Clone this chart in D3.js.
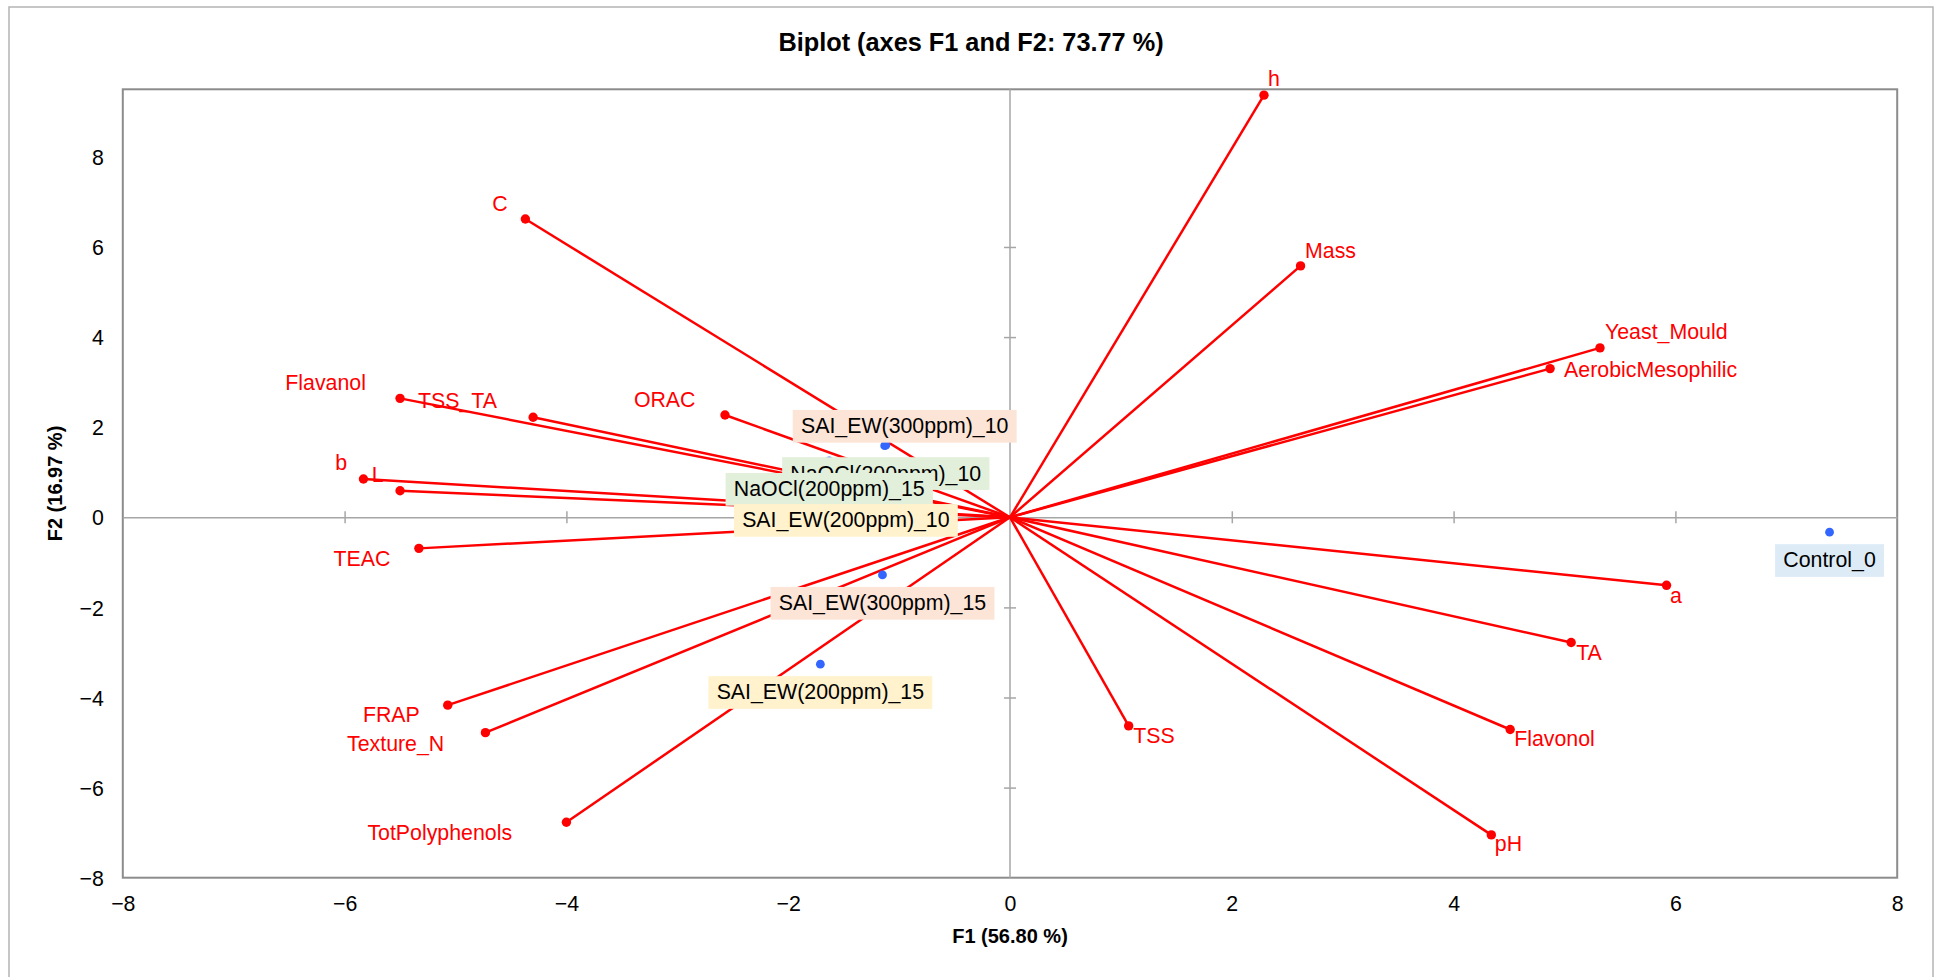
<!DOCTYPE html>
<html>
<head>
<meta charset="utf-8">
<script src="https://cdn.jsdelivr.net/npm/d3@7"></script>
<style>
  html, body { margin: 0; padding: 0; background: #fff; }
  svg { display: block; font-family: "Liberation Sans", Arial, sans-serif; }
</style>
</head>
<body>
<svg id="chart" width="1939" height="977"></svg>
<script>
// ---------------- data ----------------
const chartTitle = "Biplot (axes F1 and F2: 73.77 %)";
const xTitle = "F1 (56.80 %)";
const yTitle = "F2 (16.97 %)";

const xTicks = [-8, -6, -4, -2, 0, 2, 4, 6, 8];
const yTicks = [-8, -6, -4, -2, 0, 2, 4, 6, 8];

// variables (loadings, red vectors)
const varNames = ["h", "Mass", "Yeast_Mould", "AerobicMesophilic", "a", "TA", "Flavonol", "pH", "TSS",
                  "TotPolyphenols", "Texture_N", "FRAP", "TEAC", "L", "b", "Flavanol", "TSS_TA", "ORAC", "C"];
const varF1 = [2.29, 2.62, 5.32, 4.87, 5.92, 5.06, 4.51, 4.34, 1.07,
               -4.00, -4.73, -5.07, -5.33, -5.50, -5.83, -5.50, -4.30, -2.57, -4.37];
const varF2 = [9.37, 5.58, 3.76, 3.30, -1.51, -2.78, -4.71, -7.05, -4.63,
               -6.77, -4.78, -4.17, -0.69, 0.59, 0.85, 2.64, 2.22, 2.27, 6.62];

// observations (scores, blue points)
const obsNames = ["Control_0", "SAI_EW(300ppm)_10", "NaOCl(200ppm)_10", "NaOCl(200ppm)_15",
                  "SAI_EW(200ppm)_10", "SAI_EW(300ppm)_15", "SAI_EW(200ppm)_15"];
const obsGroup = ["Control", "SAI_EW300", "NaOCl", "NaOCl", "SAI_EW200", "SAI_EW300", "SAI_EW200"];
const obsF1 = [7.39, -1.13, -1.12, -1.63, -1.48, -1.15, -1.71];
const obsF2 = [-0.33, 1.59, 1.60, 1.25, 0.56, -1.28, -3.26];

// ---------------- layout (label placement, px offsets from the point) ----------------
const varLabelDx = [4, 4.5, 5, 14, 3.5, 5, 4, 3.5, 4.5,
                    -199, -138.4, -84.8, -85.3, -28.2, -28.3, -114.8, -115.2, -91.1, -33];
const varLabelDy = [-9, -8, -8.4, 8.4, 17.4, 17.7, 17, 16, 17,
                    17.7, 18, 17.3, 17.7, -8.4, -9, -8.3, -9, -8.3, -8.3];
const obsLabelDx = [0, 20, 0, 0, 0, 0, 0];
const obsLabelTop = [12, -35.7, 12, 12, 12, 12, 12];

const groupFill = { Control: "#DDEBF7", SAI_EW300: "#FCE4D6", NaOCl: "#E2EFDA", SAI_EW200: "#FFF2CC" };

// ---------------- drawing ----------------
const svg = d3.select("#chart");
const pLeft = 122.8, pRight = 1897.2, pTop = 89.3, pBottom = 877.7;

const x = d3.scaleLinear().domain([-8, 8]).range([pLeft, pRight]);
const y = d3.scaleLinear().domain([-8, 9.5]).range([pBottom, pTop]);

// outer chart frame
svg.append("rect").attr("x", 9).attr("y", 7).attr("width", 1924).attr("height", 1000)
  .attr("fill", "#fff").attr("stroke", "#b4b4b4").attr("stroke-width", 1.5);

// title
svg.append("text").attr("x", 971).attr("y", 50.7).attr("text-anchor", "middle")
  .attr("font-size", 25.3).attr("font-weight", "bold").attr("fill", "#000").text(chartTitle);

// plot frame
svg.append("rect").attr("x", pLeft).attr("y", pTop).attr("width", pRight - pLeft).attr("height", pBottom - pTop)
  .attr("fill", "none").attr("stroke", "#8c8c8c").attr("stroke-width", 2);

// inner axes through origin
const axisColor = "#a6a6a6";
const gx = svg.append("g").attr("transform", `translate(0,${y(0)})`);
gx.call(d3.axisBottom(x).tickValues(xTicks.filter(t => t > -8 && t < 8 && t !== 0)).tickSize(0).tickFormat(""));
gx.select(".domain").attr("stroke", axisColor).attr("stroke-width", 1.5);
gx.selectAll(".tick line").attr("y1", -6).attr("y2", 6).attr("stroke", axisColor).attr("stroke-width", 1.5);

const gy = svg.append("g").attr("transform", `translate(${x(0)},0)`);
gy.call(d3.axisLeft(y).tickValues(yTicks.filter(t => t > -8 && t < 8 && t !== 0)).tickSize(0).tickFormat(""));
gy.select(".domain").remove();
gy.append("line").attr("x1", 0).attr("x2", 0).attr("y1", pTop).attr("y2", pBottom)
  .attr("stroke", axisColor).attr("stroke-width", 1.5);
gy.selectAll(".tick line").attr("x1", -6).attr("x2", 6).attr("stroke", axisColor).attr("stroke-width", 1.5);

// tick labels on frame
const gxl = svg.append("g").attr("transform", `translate(0,${pBottom})`)
  .call(d3.axisBottom(x).tickValues(xTicks).tickSize(0).tickPadding(0).tickFormat(d3.format("d")));
gxl.select(".domain").remove();
gxl.selectAll(".tick text").attr("font-size", 21.33).attr("fill", "#000")
  .attr("font-family", "'Liberation Sans', Arial, sans-serif").attr("y", 33).attr("dy", 0);

const gyl = svg.append("g").attr("transform", `translate(${pLeft},0)`)
  .call(d3.axisLeft(y).tickValues(yTicks).tickSize(0).tickPadding(0).tickFormat(d3.format("d")));
gyl.select(".domain").remove();
gyl.selectAll(".tick text").attr("font-size", 21.33).attr("fill", "#000")
  .attr("font-family", "'Liberation Sans', Arial, sans-serif").attr("x", -19).attr("dy", "0.36em");

// axis titles
svg.append("text").attr("x", (pLeft + pRight) / 2).attr("y", 943).attr("text-anchor", "middle")
  .attr("font-size", 20).attr("font-weight", "bold").text(xTitle);
svg.append("text").attr("transform", `translate(61.5,${(pTop + pBottom) / 2}) rotate(-90)`)
  .attr("text-anchor", "middle").attr("font-size", 20).attr("font-weight", "bold").text(yTitle);

// variable vectors
const vars = varNames.map((n, i) => ({ n, f1: varF1[i], f2: varF2[i], dx: varLabelDx[i], dy: varLabelDy[i] }));
const gv = svg.append("g");
gv.selectAll("line").data(vars).join("line")
  .attr("x1", x(0)).attr("y1", y(0))
  .attr("x2", d => x(d.f1)).attr("y2", d => y(d.f2))
  .attr("stroke", "#ff0000").attr("stroke-width", 2.5);
gv.selectAll("circle").data(vars).join("circle")
  .attr("cx", d => x(d.f1)).attr("cy", d => y(d.f2)).attr("r", 4.7).attr("fill", "#ff0000");

// observations
const obs = obsNames.map((n, i) => ({ n, g: obsGroup[i], f1: obsF1[i], f2: obsF2[i], dx: obsLabelDx[i], top: obsLabelTop[i] }));
const go = svg.append("g");
go.selectAll("circle").data(obs).join("circle")
  .attr("cx", d => x(d.f1)).attr("cy", d => y(d.f2)).attr("r", 4.4).attr("fill", "#3366ff");

// observation labels with boxes (drawn in order, later ones cover earlier)
obs.forEach(d => {
  const g = go.append("g");
  const t = g.append("text").attr("font-size", 21.33).attr("fill", "#000").attr("text-anchor", "middle")
    .attr("x", x(d.f1) + d.dx).attr("y", y(d.f2) + d.top + 23.3).text(d.n);
  const w = t.node().getComputedTextLength();
  g.insert("rect", "text")
    .attr("x", x(d.f1) + d.dx - w / 2 - 8.2).attr("y", y(d.f2) + d.top)
    .attr("width", w + 16.4).attr("height", 32.7).attr("fill", groupFill[d.g]);
});

// variable labels
svg.append("g").selectAll("text").data(vars).join("text")
  .attr("x", d => x(d.f1) + d.dx).attr("y", d => y(d.f2) + d.dy)
  .attr("font-size", 21.33).attr("fill", "#ff0000").text(d => d.n);
</script>
</body>
</html>
